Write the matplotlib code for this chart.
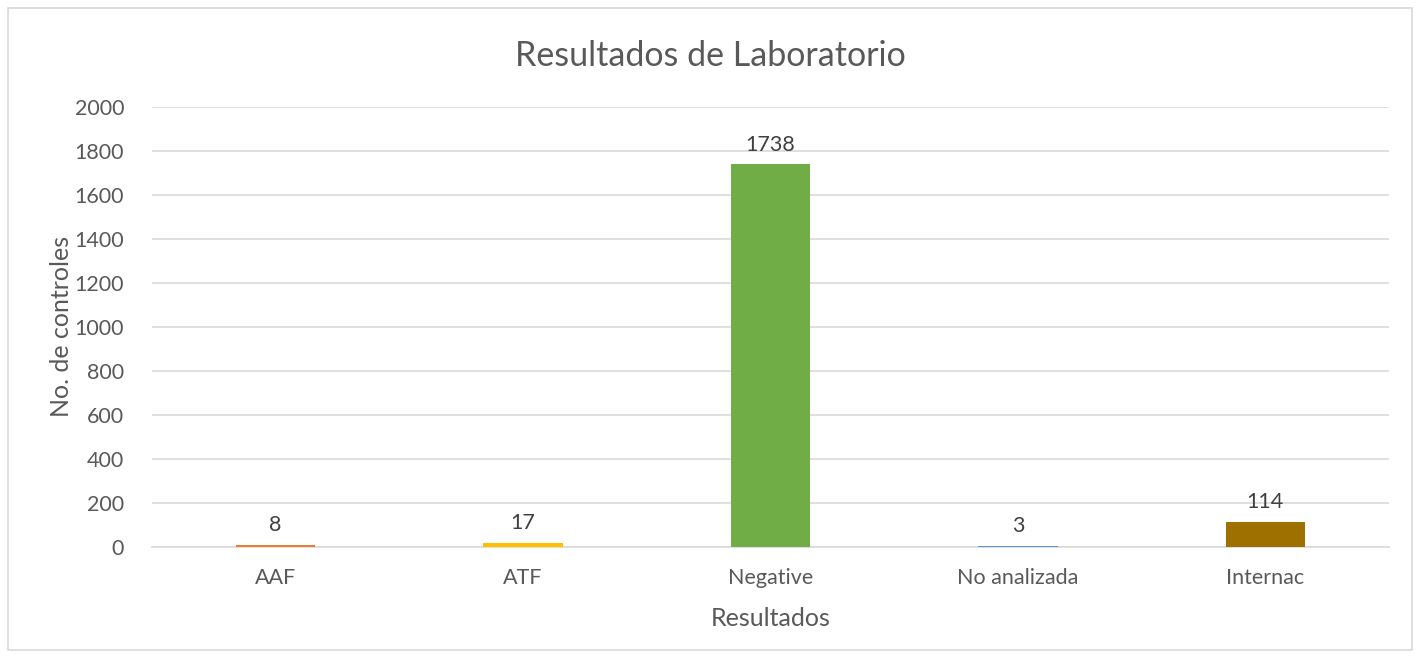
import matplotlib
matplotlib.use("Agg")
import matplotlib.pyplot as plt
from matplotlib.patches import Rectangle

# Data
categories = ["AAF", "ATF", "Negative", "No analizada", "Internac"]
counts = [8, 17, 1738, 3, 114]
bar_colors = ["#ED7D31", "#FFC000", "#70AD47", "#5B9BD5", "#9E7000"]
y_ticks = [0, 200, 400, 600, 800, 1000, 1200, 1400, 1600, 1800, 2000]

plt.rcParams['font.family'] = ['Lato', 'DejaVu Sans']
text_color = "#595959"

fig = plt.figure(figsize=(14.2, 6.6), dpi=100)
ax = fig.add_axes([0.1070, 0.1717, 0.8712, 0.6666])

x = range(len(categories))
bars = ax.bar(x, counts, width=0.32, color=bar_colors, zorder=3)

# value labels above the bars
for xi, val in zip(x, counts):
    ax.annotate(str(val), (xi, val), xytext=(0, 7), textcoords="offset points",
                ha="center", va="bottom", fontsize=15.5, color="#404040")

ax.set_xlim(-0.5, len(categories) - 0.5)
ax.set_ylim(0, 2000)
ax.set_yticks(y_ticks)
ax.set_xticks(list(x))
ax.set_xticklabels(categories)
ax.tick_params(axis="both", length=0, labelsize=15.5, labelcolor=text_color)
ax.tick_params(axis="x", pad=15)
ax.tick_params(axis="y", pad=20)
ax.grid(axis="y", color="#D9D9D9", linewidth=1.2, zorder=0)
for side in ["top", "right", "left"]:
    ax.spines[side].set_visible(False)
ax.spines["bottom"].set_color("#D9D9D9")
ax.spines["bottom"].set_linewidth(1.2)

ax.set_xlabel("Resultados", fontsize=18, color=text_color, labelpad=14)
ax.set_ylabel("No. de controles", fontsize=18, color=text_color, labelpad=1)
fig.text(0.5, 0.915, "Resultados de Laboratorio", ha="center", va="center",
         fontsize=24.5, color=text_color)

# light border around the chart area
fig.patches.append(Rectangle((8 / 1420, 10 / 660), 1404 / 1420, 642 / 660,
                             transform=fig.transFigure, fill=False,
                             edgecolor="#D9D9D9", linewidth=1.2))

fig.savefig("out.png", dpi=100)
